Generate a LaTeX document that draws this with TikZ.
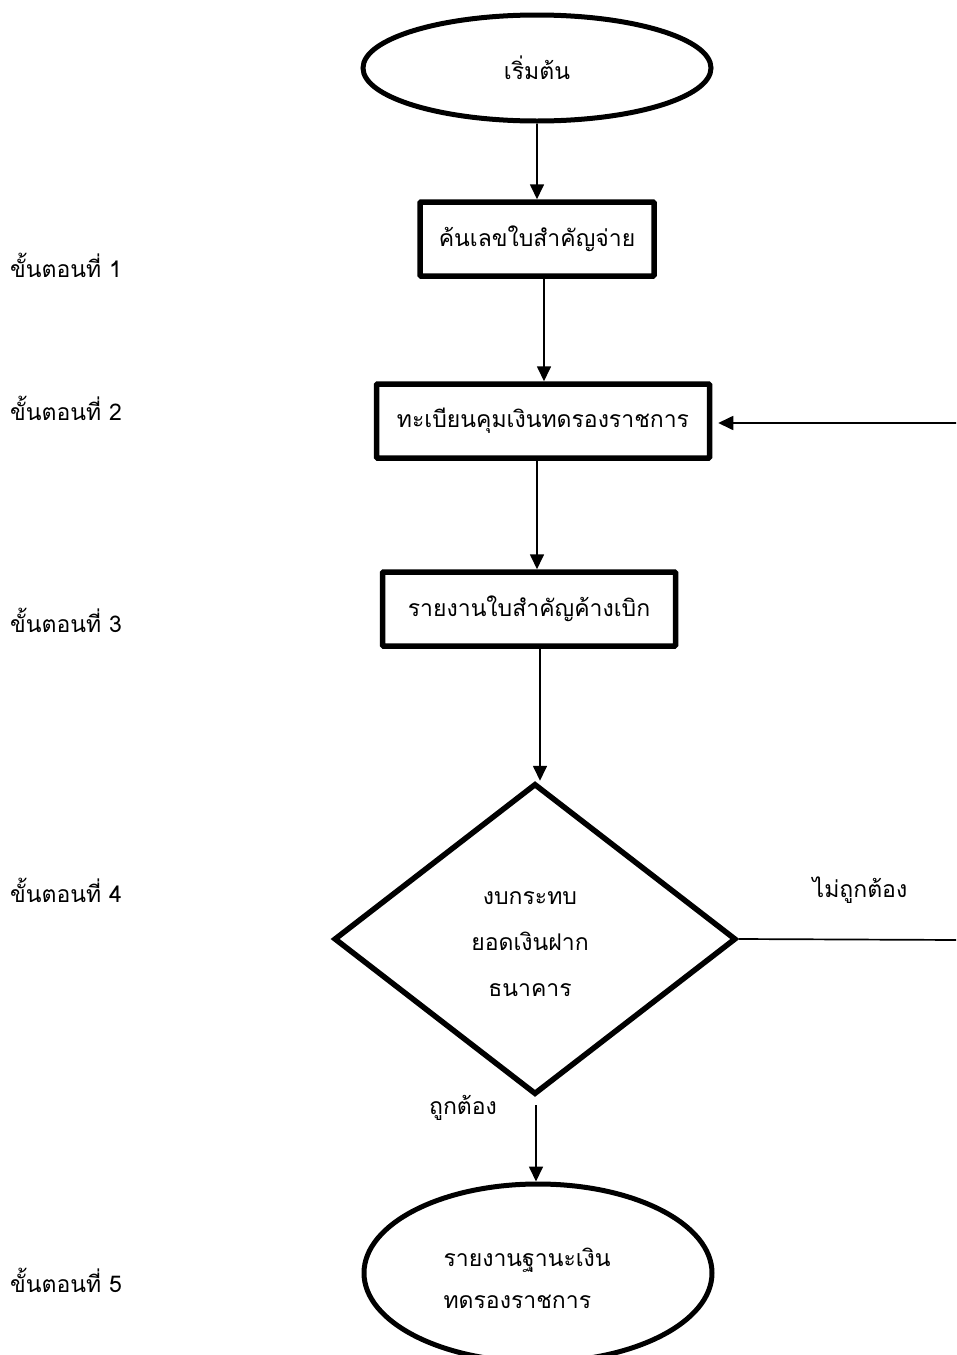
\documentclass[tikz,border=0pt]{standalone}
\usepackage{fontspec}
\setmainfont[Script=Thai]{Loma}
\usetikzlibrary{shapes.geometric,arrows.meta}
\begin{document}
\begin{tikzpicture}[x=1pt,y=-1pt,
  every node/.style={font=\fontsize{23}{28}\selectfont},
  terminal/.style={draw,ellipse,line width=5pt,inner sep=0pt},
  procbox/.style={draw,rectangle,line width=5.5pt,inner sep=0pt,rounded corners=1pt},
  decision/.style={draw,diamond,line width=5.5pt,inner sep=0pt,align=center},
  arr/.style={line width=1.7pt,-{Triangle[length=15pt,width=14pt]}},
  plain/.style={line width=1.7pt},
  steplabel/.style={anchor=west,inner sep=0pt}]
\useasboundingbox (0,0) rectangle (956,1355);
\clip (0,0) rectangle (956,1355);

% flow nodes
\node[terminal,minimum width=348pt,minimum height=106pt] (start) at (537,68) {เริ่มต้น};
\node[procbox,minimum width=234pt,minimum height=74pt] (s1) at (537,239) {ค้นเลขใบสำคัญจ่าย};
\node[procbox,minimum width=333pt,minimum height=74pt] (s2) at (543,421) {ทะเบียนคุมเงินทดรองราชการ};
\node[procbox,minimum width=293pt,minimum height=74pt] (s3) at (529,609) {รายงานใบสำคัญค้างเบิก};
\node[decision,minimum width=402pt,minimum height=311pt] (dec) at (535,939) {};
\node[align=center] (dectext) at (530,944) {งบกระทบ\\[18pt]ยอดเงินฝาก\\[18pt]ธนาคาร};
\node[terminal,minimum width=348pt,minimum height=178pt] (end) at (538,1273) {};
\node[align=left,anchor=west] (endtext) at (440,1278) {รายงานฐานะเงิน\\[14pt]ทดรองราชการ};

% branch labels
\node (no) at (860,890) {ไม่ถูกต้อง};
\node (yes) at (463,1108) {ถูกต้อง};

% step labels
\node[steplabel] (l1) at (10,265) {ขั้นตอนที่ 1};
\node[steplabel] (l2) at (10,408) {ขั้นตอนที่ 2};
\node[steplabel] (l3) at (10,620) {ขั้นตอนที่ 3};
\node[steplabel] (l4) at (10,890) {ขั้นตอนที่ 4};
\node[steplabel] (l5) at (10,1280) {ขั้นตอนที่ 5};

% connectors
\coordinate (r1) at (960,940);
\coordinate (r2) at (960,423);
\draw[arr] (start.south) -- (s1.north);
\draw[arr] ([xshift=7pt]s1.south) -- ([xshift=1pt]s2.north);
\draw[arr] ([xshift=-6pt]s2.south) -- ([xshift=8pt]s3.north);
\draw[arr] ([xshift=11pt]s3.south) -- ([xshift=5pt]dec.north);
\draw[arr] ([xshift=1pt,yshift=-8pt]dec.south) -- ([xshift=-2pt]end.north);
\draw[plain] (dec.east) -- (r1);
\draw[arr,shorten >=6pt] (r2) -- (r2 -| s2.east);
\end{tikzpicture}
\end{document}
